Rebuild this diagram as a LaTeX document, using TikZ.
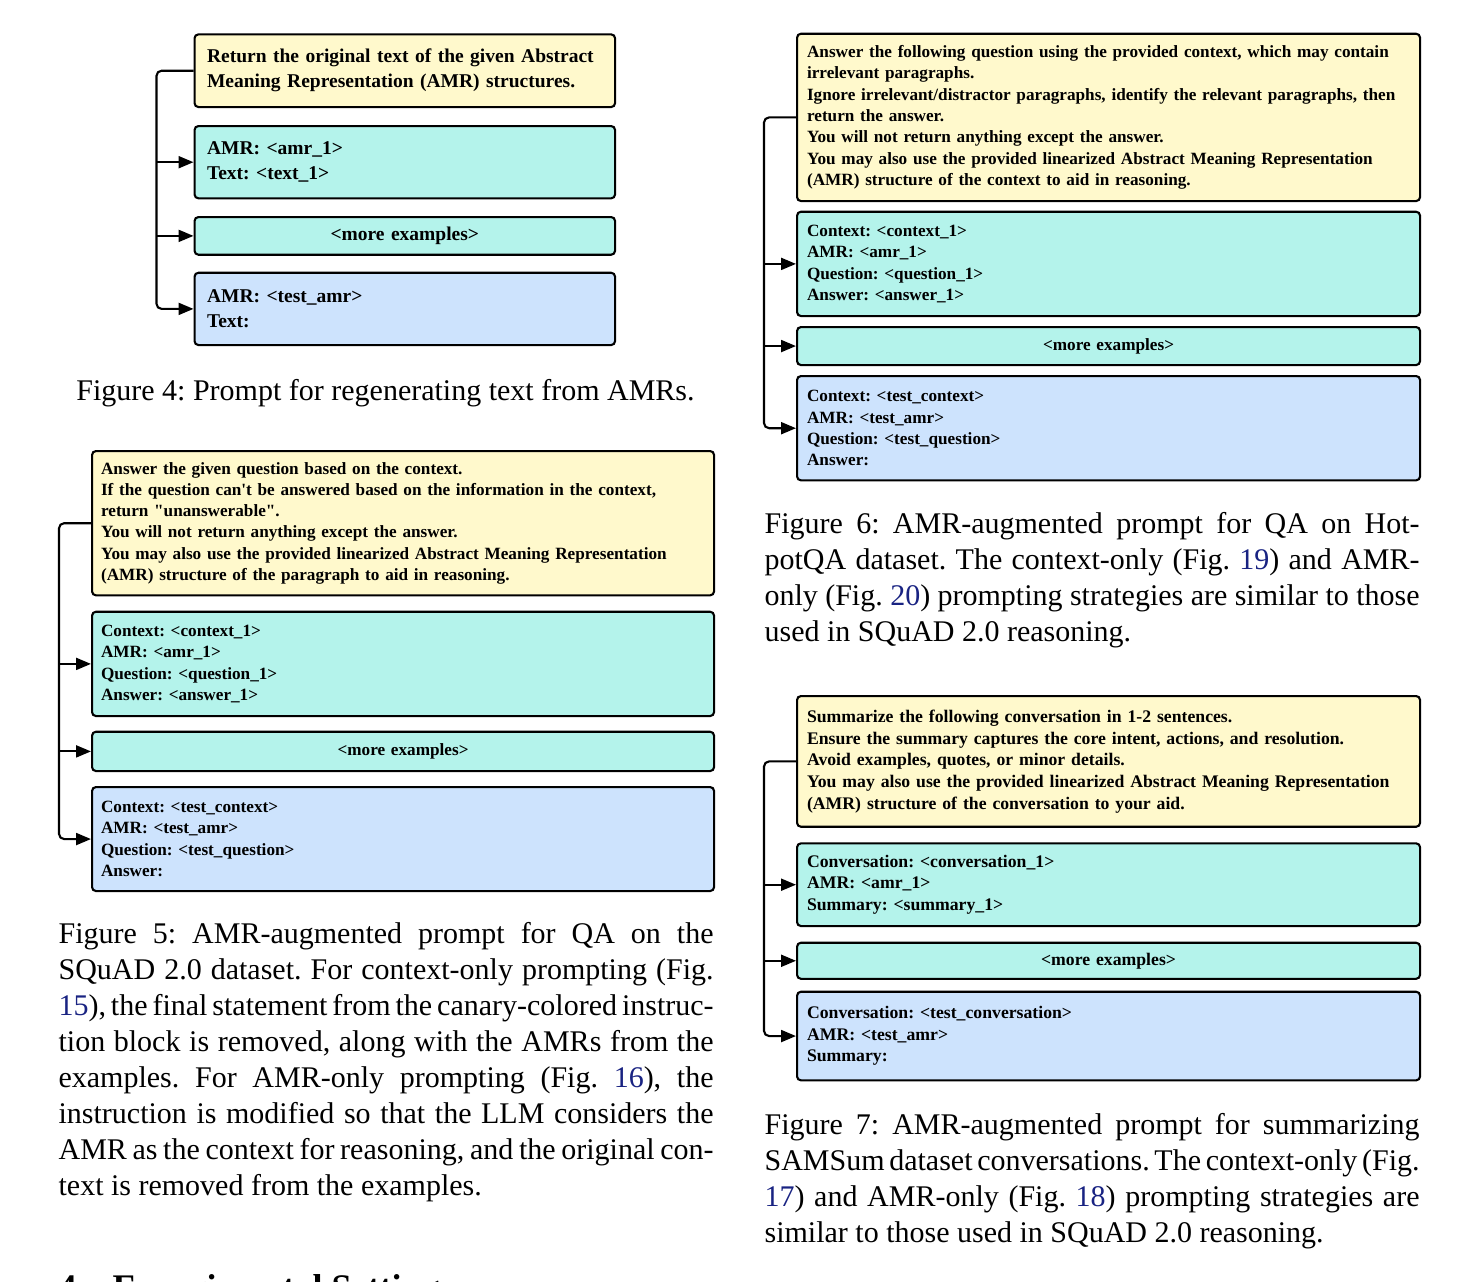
\documentclass[tikz,border=0pt]{standalone}
\usepackage{fontspec}
\setmainfont{Liberation Serif}
\newfontfamily\capfont{Liberation Serif}[WordSpace={1,1.2,1.5}]
\frenchspacing
\usetikzlibrary{arrows.meta,calc,positioning}
\definecolor{canary}{RGB}{255,249,204}
\definecolor{mint}{RGB}{180,243,235}
\definecolor{sky}{RGB}{205,227,253}
\definecolor{linkblue}{RGB}{25,35,130}

\begin{document}
\begin{tikzpicture}[
  x=0.33333pt, y=-0.33333pt,
  >={Triangle[length=5pt,width=4pt]},
  prompt/.style={draw, line width=0.7pt, rounded corners=1.3pt, anchor=north west, align=left},
  instr/.style={prompt, fill=canary},
  shot/.style={prompt, fill=mint},
  more/.style={prompt, fill=mint, align=center},
  query/.style={prompt, fill=sky},
  wide/.style={font=\fontsize{6.5}{8.33}\selectfont\bfseries, inner xsep=12.5*\px, text width=395.5*\px},
  narrow/.style={font=\fontsize{5.73}{7.1}\selectfont\bfseries, inner xsep=9*\px, text width=604*\px},
  right col/.style={font=\fontsize{5.73}{7.1}\selectfont\bfseries, inner xsep=10*\px, text width=603*\px},
  sum col/.style={right col, font=\fontsize{5.9}{7.23}\selectfont\bfseries},
  feed/.style={->, line width=0.7pt},
  figcap/.style={font=\capfont\fontsize{10}{12}\selectfont, inner sep=0pt},
  capbox/.style={figcap, text width=218.33pt, align=justify, anchor=base west}
]
  \def\px{0.33333pt}
  \useasboundingbox (0,0) rectangle (1478,1282);
  \clip (0,0) rectangle (1478,1282);

  % Figure 4: regenerating text
  \node[instr, wide, minimum height=72.7*\px] (i4) at (193.5,33.3)
    {Return the original text of the given Abstract\\Meaning Representation (AMR) structures.};
  \node[shot, wide, minimum height=72.3*\px] (s4) at (193.5,125)
    {AMR: <amr\_1>\\Text: <text\_1>};
  \node[more, wide, minimum height=37.3*\px] (m4) at (193.5,216) {<more examples>};
  \node[query, wide, minimum height=72.3*\px] (q4) at (193.5,271.7)
    {AMR: <test\_amr>\\Text:};
  \coordinate (t4) at (156.5,0);
  \node[figcap, anchor=base] (c4) at (385.5,400) {Figure 4: Prompt for regenerating text from AMRs.};

  % Figure 5: SQuAD
  \node[instr, narrow, minimum height=144.3*\px] (i5) at (91,450)
    {Answer the given question based on the context.\\
     If the question can\textquotesingle t be answered based on the information in the context,\\
     return \textquotedbl unanswerable\textquotedbl.\\
     You will not return anything except the answer.\\
     You may also use the provided linearized Abstract Meaning Representation\\
     (AMR) structure of the paragraph to aid in reasoning.};
  \node[shot, narrow, minimum height=104.3*\px] (s5) at (91,610.7)
    {Context: <context\_1>\\AMR: <amr\_1>\\Question: <question\_1>\\Answer: <answer\_1>};
  \node[more, narrow, minimum height=39.3*\px] (m5) at (91,730.7) {<more examples>};
  \node[query, narrow, minimum height=104*\px] (q5) at (91,786)
    {Context: <test\_context>\\AMR: <test\_amr>\\Question: <test\_question>\\Answer:};
  \coordinate (t5) at (59,0);
  \node[capbox] (c5) at (58,943)
    {Figure 5: AMR-augmented prompt for QA on the\linebreak
     SQuAD 2.0 dataset. For context-only prompting (Fig.\linebreak
     {\color{linkblue}15}), the final statement from the canary-colored instruc-\linebreak
     tion block is removed, along with the AMRs from the\linebreak
     examples. For AMR-only prompting (Fig.~{\color{linkblue}16}), the\linebreak
     instruction is modified so that the LLM considers the\linebreak
     AMR as the context for reasoning, and the original con-\linebreak
     text is removed from the examples.};

  % Figure 6: HotpotQA
  \node[instr, right col, minimum height=167.3*\px] (i6) at (796,32.7)
    {Answer the following question using the provided context, which may contain\\
     irrelevant paragraphs.\\
     Ignore irrelevant/distractor paragraphs, identify the relevant paragraphs, then\\
     return the answer.\\
     You will not return anything except the answer.\\
     You may also use the provided linearized Abstract Meaning Representation\\
     (AMR) structure of the context to aid in reasoning.};
  \node[shot, right col, minimum height=104.3*\px] (s6) at (796,210.7)
    {Context: <context\_1>\\AMR: <amr\_1>\\Question: <question\_1>\\Answer: <answer\_1>};
  \node[more, right col, minimum height=38*\px] (m6) at (796,326) {<more examples>};
  \node[query, right col, minimum height=104.3*\px] (q6) at (796,375)
    {Context: <test\_context>\\AMR: <test\_amr>\\Question: <test\_question>\\Answer:};
  \coordinate (t6) at (764,0);
  \node[capbox] (c6) at (764,533)
    {Figure 6: AMR-augmented prompt for QA on Hot-\linebreak
     potQA dataset. The context-only (Fig.~{\color{linkblue}19}) and AMR-\linebreak
     only (Fig.~{\color{linkblue}20}) prompting strategies are similar to those\linebreak
     used in SQuAD 2.0 reasoning.};

  % Figure 7: SAMSum
  \node[instr, sum col, minimum height=130.7*\px] (i7) at (796,695)
    {Summarize the following conversation in 1-2 sentences.\\
     Ensure the summary captures the core intent, actions, and resolution.\\
     Avoid examples, quotes, or minor details.\\
     You may also use the provided linearized Abstract Meaning Representation\\
     (AMR) structure of the conversation to your aid.};
  \node[shot, sum col, minimum height=82.7*\px] (s7) at (796,842.3)
    {Conversation: <conversation\_1>\\AMR: <amr\_1>\\Summary: <summary\_1>};
  \node[more, sum col, minimum height=32.3*\px] (m7) at (796,941.7) {<more examples>};
  \node[query, sum col, minimum height=88.6*\px] (q7) at (796,990.7)
    {Conversation: <test\_conversation>\\AMR: <test\_amr>\\Summary:};
  \coordinate (t7) at (764,0);
  \node[capbox] (c7) at (764,1134)
    {Figure 7: AMR-augmented prompt for summarizing\linebreak
     SAMSum dataset conversations. The context-only (Fig.\linebreak
     {\color{linkblue}17}) and AMR-only (Fig.~{\color{linkblue}18}) prompting strategies are\linebreak
     similar to those used in SQuAD 2.0 reasoning.};

  % prompt flow arrows
  \foreach \f in {4,5,6,7}{
    \draw[feed, rounded corners=1.7pt] (i\f.west) -- (i\f.west -| t\f) |- (q\f.west);
    \draw[feed] (s\f.west -| t\f) -- (s\f.west);
    \draw[feed] (m\f.west -| t\f) -- (m\f.west);
  }

  % next section, cut by the page edge
  \node[anchor=base west, inner sep=0pt, font=\fontsize{12}{14.4}\selectfont\bfseries] (sec) at (58,1299)
    {4\quad Experimental Settings};
\end{tikzpicture}
\end{document}
